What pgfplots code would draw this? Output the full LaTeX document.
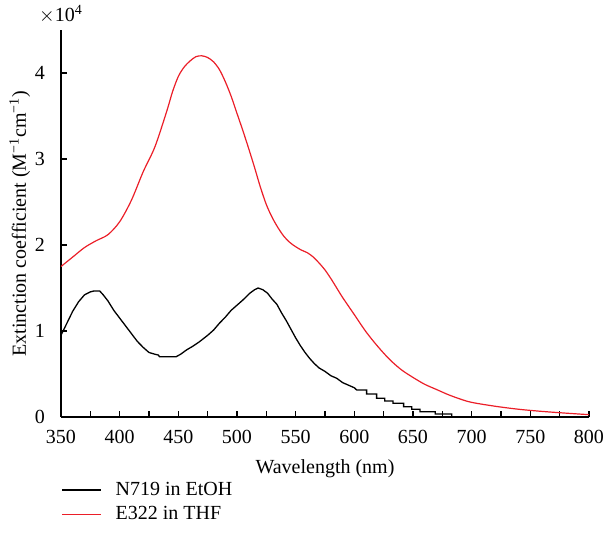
\documentclass[border=0pt]{standalone}
\usepackage{fontspec}
\setmainfont{Liberation Serif}
\usepackage{pgfplots}
\pgfplotsset{compat=1.18}
\definecolor{redline}{RGB}{235,30,40}
\begin{document}
\begin{tikzpicture}
\useasboundingbox (-30.5pt,-67pt) rectangle (272.5pt,208.5pt);
\begin{axis}[
  at={(0,0)}, anchor=south west,
  scale only axis, width=264pt, height=193.5pt,
  xmin=350, xmax=800, ymin=0, ymax=4.5,
  clip=false,
  axis lines*=left,
  axis line style={line width=0.6pt},
  xtick={350,400,...,800}, ytick={0,1,2,3,4},
  minor x tick num=1,
  tick style={black, line width=0.6pt},
  major tick length=3pt, minor tick length=3pt,
  tick align=inside,
  /pgf/number format/assume math mode=true,
  xticklabel style={yshift=-3pt},
  yticklabel style={xshift=-4.5pt},
  xlabel={Wavelength (nm)},
  ylabel={Extinction coefficient (M\textsuperscript{−1}cm\textsuperscript{−1})},
  xlabel style={yshift=-1pt},
  ylabel shift=-4.5pt,
  legend style={at={(0,-0.156)}, anchor=north west, draw=none, fill=none, inner sep=0pt, legend cell align=left},
  legend image code/.code={\draw[#1] (0pt,0pt) -- (19.5pt,0pt); \path (24.5pt,0pt);},
]
\addplot[black, line width=0.65pt, mark=none] coordinates {
(350,0.95)(355,1.09)(360,1.23)(365,1.34)(370,1.42)(375,1.455)(378,1.465)(383,1.465)
(386,1.42)(390,1.35)(395,1.24)(400,1.15)(405,1.06)(410,0.97)(415,0.88)(420,0.81)
(425,0.75)(430,0.73)(433,0.72)(434,0.70)(448,0.70)(452,0.73)(457,0.78)(462,0.82)
(468,0.875)(475,0.95)(480,1.01)(485,1.09)(490,1.16)(495,1.24)(500,1.30)(505,1.36)
(511,1.44)(515,1.48)(518,1.50)(522,1.48)(526,1.44)(530,1.37)(534,1.31)(538,1.21)
(542,1.12)(546,1.02)(550,0.92)(554,0.83)(558,0.75)(562,0.68)(566,0.62)(570,0.57)
(575,0.53)(580,0.48)(585,0.45)(590,0.40)(595,0.37)(600,0.34)(602,0.314)
(610.5,0.314)(610.5,0.267)(619,0.267)(619,0.217)(626,0.217)(626,0.186)
(633,0.186)(633,0.159)(642,0.159)(642,0.12)(649,0.12)(649,0.089)(656,0.089)
(656,0.062)(669,0.062)(669,0.035)(683,0.035)(683,0.016)(683,0)(700,0)
};
\addlegendentry{N719 in EtOH}
\addplot[redline, line width=0.6pt, mark=none, smooth] coordinates {
(350,1.75)(360,1.86)(370,1.97)(380,2.05)(390,2.12)(400,2.27)(410,2.52)(420,2.85)
(430,3.14)(440,3.55)(445,3.78)(450,3.96)(455,4.07)(460,4.14)(465,4.19)(470,4.20)
(475,4.18)(480,4.13)(485,4.04)(490,3.90)(495,3.73)(500,3.53)(505,3.33)(510,3.12)
(515,2.90)(520,2.67)(525,2.47)(530,2.32)(535,2.20)(540,2.10)(545,2.03)(550,1.98)
(555,1.94)(560,1.91)(565,1.86)(570,1.79)(575,1.71)(580,1.61)(585,1.50)(590,1.39)
(600,1.19)(610,0.99)(620,0.82)(630,0.67)(640,0.55)(650,0.46)(660,0.38)(670,0.32)
(680,0.26)(690,0.21)(700,0.17)(720,0.125)(740,0.09)(760,0.065)(780,0.045)(800,0.027)
};
\addlegendentry{E322 in THF}
\node[anchor=south, inner sep=0pt, yshift=3pt] at (rel axis cs:0,1) {$\times$10\textsuperscript{4}};
\end{axis}
\end{tikzpicture}
\end{document}
